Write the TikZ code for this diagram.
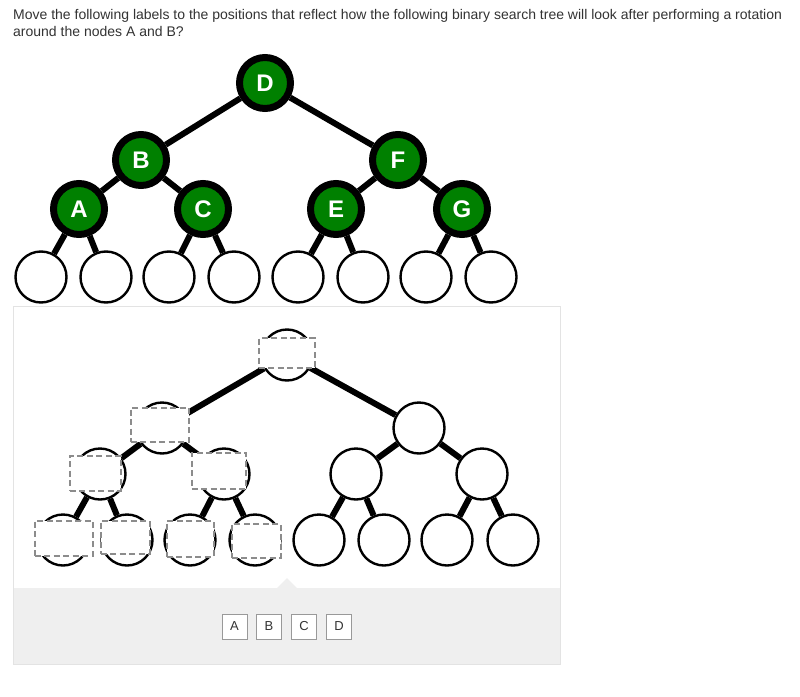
\documentclass[tikz,border=0pt]{standalone}
\usepackage{fontspec}
\setmainfont{Liberation Sans}
\definecolor{bstgreen}{HTML}{008000}
\definecolor{qtext}{HTML}{333333}
\definecolor{slotgray}{HTML}{8C8C8C}
\definecolor{panelgray}{HTML}{EFEFEF}
\definecolor{panelline}{HTML}{E3E3E3}
\definecolor{chipline}{HTML}{999999}

\begin{document}
\begin{tikzpicture}[x=1pt,y=-1pt,
    every node/.style={inner sep=0pt},
    full/.style={circle,draw=black,line width=7pt,fill=bstgreen,minimum size=51pt,
                 text=white,font=\fontsize{24}{24}\selectfont\bfseries},
    empty/.style={circle,draw=black,line width=2.4pt,fill=white,minimum size=51pt},
    slot/.style={draw=slotgray,line width=2pt,dash pattern=on 6pt off 3.5pt,fill=white},
    chip/.style={draw=chipline,fill=white,line width=1pt,minimum size=25pt,
                 text=qtext,font=\fontsize{13}{13}\selectfont}]
        \tikzset{edge/.style = {line width=6pt}}
        \useasboundingbox[fill=white] (0,0) rectangle (800,696);

        % question
        \node[anchor=base west,text=qtext,font=\fontsize{14}{17}\selectfont] (q1) at (13,19)
            {Move the following labels to the positions that reflect how the following binary search tree will look after performing a rotation};
        \node[anchor=base west,text=qtext,font=\fontsize{14}{17}\selectfont] (q2) at (13,36)
            {around the nodes A and B?};

        % given tree
        \node[full] (D) at (265,83) {D};
        \node[full] (B) at (141,160) {B};
        \node[full] (F) at (398,160) {F};
        \node[full] (A) at (79,209) {A};
        \node[full] (C) at (203,209) {C};
        \node[full] (E) at (336,209) {E};
        \node[full] (G) at (462,209) {G};
        \node[empty] (a1) at (41,277) {};
        \node[empty] (a2) at (106,277) {};
        \node[empty] (c1) at (169,277) {};
        \node[empty] (c2) at (234,277) {};
        \node[empty] (e1) at (298,277) {};
        \node[empty] (e2) at (363,277) {};
        \node[empty] (g1) at (426,277) {};
        \node[empty] (g2) at (491,277) {};

        \draw[edge] (D) to (B);
        \draw[edge] (D) to (F);
        \draw[edge] (B) to (A);
        \draw[edge] (B) to (C);
        \draw[edge] (F) to (E);
        \draw[edge] (F) to (G);
        \draw[edge] (A) to (a1);
        \draw[edge] (A) to (a2);
        \draw[edge] (C) to (c1);
        \draw[edge] (C) to (c2);
        \draw[edge] (E) to (e1);
        \draw[edge] (E) to (e2);
        \draw[edge] (G) to (g1);
        \draw[edge] (G) to (g2);

        % answer panel
        \fill[panelgray] (13,588) rectangle (561,665);
        \fill[panelgray] (277,588) -- (287,578) -- (297,588) -- cycle;
        \draw[panelline] (13.5,306.5) rectangle (560.5,664.5);

        % rotated tree
        \node[empty] (r) at (287,355) {};
        \node[empty] (L) at (162,428) {};
        \node[empty] (R) at (419,428) {};
        \node[empty] (LL) at (100,474) {};
        \node[empty] (LR) at (224,474) {};
        \node[empty] (RL) at (356,474) {};
        \node[empty] (RR) at (482,474) {};
        \node[empty] (LLa) at (63,540) {};
        \node[empty] (LLb) at (127,540) {};
        \node[empty] (LRa) at (190,540) {};
        \node[empty] (LRb) at (255,540) {};
        \node[empty] (RLa) at (319,540) {};
        \node[empty] (RLb) at (384,540) {};
        \node[empty] (RRa) at (447,540) {};
        \node[empty] (RRb) at (513,540) {};

        \draw[edge] (r) to (L);
        \draw[edge] (r) to (R);
        \draw[edge] (L) to (LL);
        \draw[edge] (L) to (LR);
        \draw[edge] (R) to (RL);
        \draw[edge] (R) to (RR);
        \draw[edge] (LL) to (LLa);
        \draw[edge] (LL) to (LLb);
        \draw[edge] (LR) to (LRa);
        \draw[edge] (LR) to (LRb);
        \draw[edge] (RL) to (RLa);
        \draw[edge] (RL) to (RLb);
        \draw[edge] (RR) to (RRa);
        \draw[edge] (RR) to (RRb);

        % drop targets
        \node[slot,minimum width=56pt,minimum height=30pt] (sr) at (286.5,353) {};
        \node[slot,minimum width=58pt,minimum height=34pt] (sL) at (159.5,424.5) {};
        \node[slot,minimum width=51pt,minimum height=35pt] (sLL) at (95,473) {};
        \node[slot,minimum width=54pt,minimum height=36pt] (sLR) at (218.5,470.5) {};
        \node[slot,minimum width=58pt,minimum height=35pt] (sLLa) at (63.5,538) {};
        \node[slot,minimum width=49pt,minimum height=33pt] (sLLb) at (125,537) {};
        \node[slot,minimum width=47pt,minimum height=36pt] (sLRa) at (190,538.5) {};
        \node[slot,minimum width=49pt,minimum height=34pt] (sLRb) at (256,540.5) {};

        % labels to move
        \node[chip] (la) at (234.5,626.5) {A};
        \node[chip] (lb) at (269,626.5) {B};
        \node[chip] (lc) at (304,626.5) {C};
        \node[chip] (ld) at (339,626.5) {D};
\end{tikzpicture}
\end{document}
